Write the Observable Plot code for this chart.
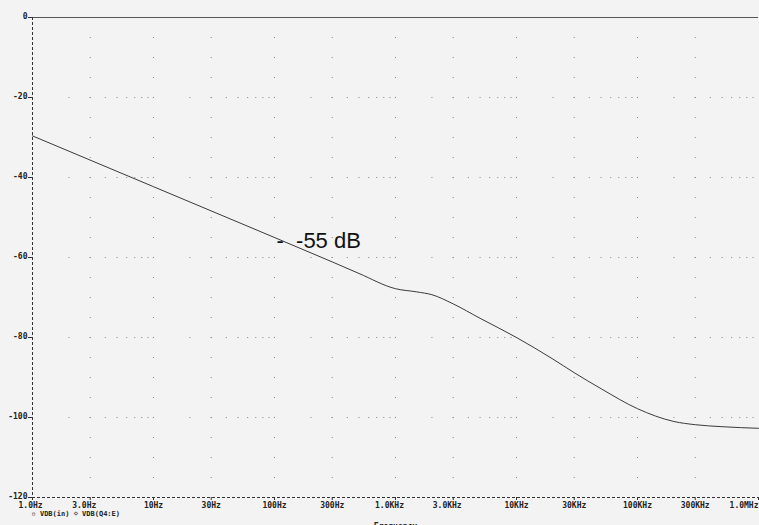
<!DOCTYPE html>
<html>
<head>
<meta charset="utf-8">
<script src="https://cdn.jsdelivr.net/npm/d3@7"></script>
<script src="https://cdn.jsdelivr.net/npm/@observablehq/plot@0.6"></script>
<style>
  html, body { margin: 0; padding: 0; background: #f3f3f3; overflow: hidden; }
</style>
</head>
<body>
<div id="chart"></div>
<script>
// Frequency response of VDB(Q4:E), AC sweep 1 Hz .. 1 MHz
const freqs = [1, 10, 100, 300, 500, 1000, 1500, 2000, 3000, 5000, 10000, 20000, 30000, 50000, 100000, 200000, 300000, 500000, 1000000];
const vdb   = [-29.6, -42.3, -55.0, -61.1, -64.0, -67.8, -68.6, -69.3, -71.6, -75.2, -80.0, -85.4, -88.8, -92.8, -97.8, -101.0, -101.8, -102.3, -102.7];

// marked data point
const markFreq = 100;
const markDb = -55;

// axis ticks
const yTicks = [0, -20, -40, -60, -80, -100, -120];
const xTicks = [1, 3, 10, 30, 100, 300, 1000, 3000, 10000, 30000, 100000, 300000, 1000000];
const xTickLabels = ["1.0Hz", "3.0Hz", "10Hz", "30Hz", "100Hz", "300Hz", "1.0KHz", "3.0KHz", "10KHz", "30KHz", "100KHz", "300KHz", "1.0MHz"];

const legendText = "\u25AB VDB(in) \u22C4 VDB(Q4:E)";
const xTitle = "Frequency";

const curve = freqs.map((f, i) => ({f, db: vdb[i]}));

// dotted grid: columns at the labelled frequencies, rows at the labelled levels
const gridCols = [];
for (const f of xTicks.slice(1, -1)) {
  for (let db = -115; db <= -5; db += 5) gridCols.push({f, db});
}
const gridRows = [];
for (const db of yTicks.slice(1, -1)) {
  for (let e = 0; e < 6; e++) {
    for (let k = 1; k <= 9; k++) {
      const f = k * Math.pow(10, e);
      if (f > 1) gridRows.push({f, db});
    }
  }
}

const ticks = xTicks.map((v, i) => ({v, label: xTickLabels[i]}));
const first = ticks.slice(0, 1);
const last = ticks.slice(-1);
const inner = ticks.slice(1, -1);
const innerDot = inner.filter(d => d.label.includes("."));
const innerPlain = inner.filter(d => !d.label.includes("."));

const mono = "DejaVu Sans Mono";
const tickText = {x: "v", text: "label", frameAnchor: "bottom", lineAnchor: "middle", dy: 8, fontFamily: mono, fontSize: 8, fontWeight: "bold", fill: "#222"};

const chart = Plot.plot({
  width: 759,
  height: 525,
  marginLeft: 32,
  marginRight: 1,
  marginTop: 17,
  marginBottom: 28,
  x: {type: "log", domain: [1, 1000000], axis: null},
  y: {domain: [-120, 0], axis: null},
  style: {background: "#f3f3f3", fontFamily: mono, fontSize: "8px", fontWeight: "bold", color: "#222"},
  marks: [
    Plot.dot(gridCols, {x: "f", y: "db", symbol: "square", r: 0.6, fill: "#8a8a8a", stroke: null}),
    Plot.dot(gridRows, {x: "f", y: "db", symbol: "square", r: 0.6, fill: "#8a8a8a", stroke: null}),
    Plot.ruleY([0], {stroke: "#555", strokeWidth: 1}),
    Plot.ruleX([1], {stroke: "#333", strokeDasharray: "3,2"}),
    Plot.ruleY([-120], {stroke: "#333", strokeDasharray: "3,2"}),
    // y ticks and labels
    Plot.ruleY(yTicks, {x1: 1, x2: 1, insetLeft: -4, stroke: "#333"}),
    Plot.text(yTicks, {y: d => d, text: d => String(d), frameAnchor: "left", textAnchor: "end", dx: -5, dy: -1, fontFamily: mono, fontSize: 8, fontWeight: "bold", fill: "#222"}),
    // x ticks and labels
    Plot.ruleX(xTicks, {y1: -120, y2: -120, insetBottom: -3, stroke: "#333"}),
    Plot.text(innerPlain, {...tickText, textAnchor: "middle"}),
    Plot.text(innerDot, {...tickText, textAnchor: "middle", dx: -6}),
    Plot.text(first, {...tickText, textAnchor: "start", dx: -14}),
    Plot.text(last, {...tickText, textAnchor: "end"}),
    Plot.text([legendText], {frameAnchor: "bottom-left", lineAnchor: "middle", dy: 16, dx: -1, textAnchor: "start", fontFamily: mono, fontSize: 7, fontWeight: "bold", fill: "#222"}),
    Plot.text([xTitle], {frameAnchor: "bottom", lineAnchor: "middle", dy: 29, fontFamily: mono, fontSize: 8, fontWeight: "bold", fill: "#222"}),
    Plot.line(curve, {x: "f", y: "db", stroke: "#3a3a3a", strokeWidth: 1, curve: "monotone-x"}),
    Plot.text([{f: markFreq, db: markDb}], {
      x: "f", y: "db", text: d => `-  ${d.db} dB`, textAnchor: "start", dx: 2, dy: 3,
      fontFamily: "Liberation Sans", fontSize: 22, fontWeight: "normal", fill: "#111"
    })
  ]
});

document.getElementById("chart").append(chart);
</script>
</body>
</html>
